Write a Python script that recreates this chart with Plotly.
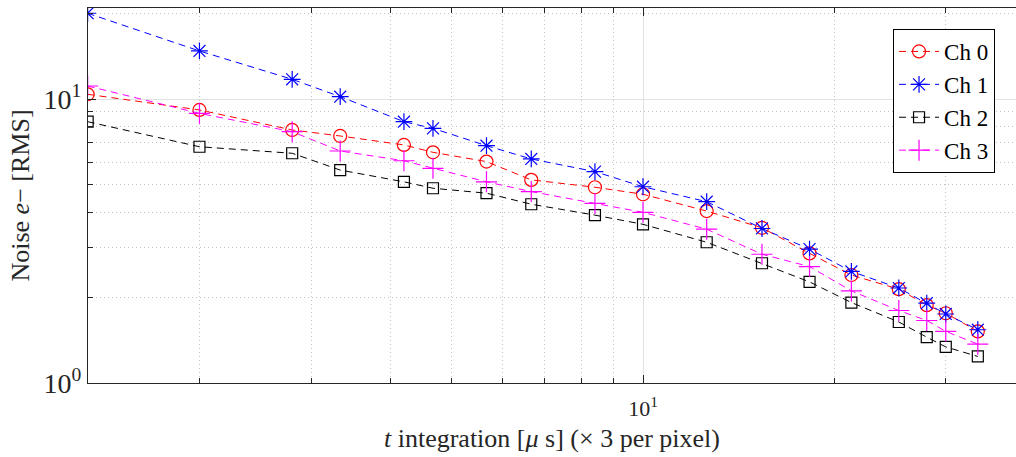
import plotly.graph_objects as go

# integration time [us]
t_us = [1.333, 2.0, 2.8, 3.333, 4.2, 4.667, 5.667, 6.667, 8.4, 10.0,
        12.6, 15.4, 18.3, 21.3, 25.3, 28.0, 30.0, 33.7]

ch0 = [10.39, 9.15, 7.78, 7.41, 6.89, 6.49, 6.02, 5.19, 4.89, 4.62,
       4.03, 3.52, 2.86, 2.40, 2.14, 1.88, 1.76, 1.52]
ch1 = [20.04, 14.76, 11.73, 10.19, 8.32, 7.88, 6.85, 6.15, 5.55, 4.91,
       4.35, 3.50, 2.96, 2.47, 2.16, 1.91, 1.75, 1.54]
ch2 = [8.32, 6.79, 6.44, 5.62, 5.11, 4.85, 4.66, 4.26, 3.90, 3.62,
       3.13, 2.64, 2.27, 1.92, 1.64, 1.45, 1.34, 1.24]
ch3 = [11.11, 8.90, 7.67, 6.56, 6.06, 5.70, 5.11, 4.72, 4.29, 3.99,
       3.48, 2.84, 2.57, 2.11, 1.80, 1.66, 1.52, 1.37]

names = ["Ch 0", "Ch 1", "Ch 2", "Ch 3"]
colors = ["#ff0000", "#0000ff", "#000000", "#ff00ff"]
symbols = ["circle-open", "asterisk-open", "square-open", "cross-thin-open"]
sizes = [13, 14, 11, 15]

x_minor = [2, 3, 4, 5, 6, 7, 8, 9, 20, 30]
y_minor = [2, 3, 4, 5, 6, 7, 8, 9, 20]

axis_col = "#262626"
font_fam = "Liberation Serif"

fig = go.Figure()
for name, y, c, s, sz in zip(names, [ch0, ch1, ch2, ch3], colors, symbols, sizes):
    fig.add_trace(go.Scatter(
        x=t_us, y=y, name=name, mode="lines+markers",
        line=dict(color=c, width=1, dash="7px,5px"),
        marker=dict(symbol=s, size=sz, color=c, line=dict(color=c, width=1.2)),
    ))

fig.update_layout(
    width=1016, height=457,
    margin=dict(l=88, r=0, t=8, b=74),
    paper_bgcolor="white", plot_bgcolor="white",
    font=dict(family=font_fam, color=axis_col),
    showlegend=True,
    legend=dict(
        x=0.8675, y=0.944, xanchor="left", yanchor="top",
        bgcolor="white", bordercolor="#000000", borderwidth=1,
        font=dict(family=font_fam, size=23, color="#000000"),
        tracegroupgap=0, itemwidth=40,
    ),
)

fig.update_xaxes(
    type="log", range=[0.1254, 1.5878],
    tickmode="array", tickvals=[10], ticktext=["10<sup>1</sup>"],
    ticks="inside", ticklen=8, tickcolor=axis_col, tickwidth=1,
    tickfont=dict(size=22, family=font_fam, color=axis_col),
    ticklabelstandoff=6,
    showline=True, linecolor=axis_col, linewidth=1, mirror="ticks",
    showgrid=True, gridcolor="#e2e2e2", gridwidth=1, zeroline=False,
    minor=dict(tickmode="array", tickvals=x_minor, ticks="inside", ticklen=5,
               tickcolor=axis_col, showgrid=True, gridcolor="#c4c4c4",
               griddash="1px,3px", gridwidth=1),
    title=dict(text="<i>t</i> integration [<i>μ</i> s] (× 3 per pixel)",
               font=dict(size=26, family=font_fam, color=axis_col), standoff=8),
)

fig.update_yaxes(
    type="log", range=[0, 1.3204],
    tickmode="array", tickvals=[1, 10], ticktext=["10<sup>0</sup>", "10<sup>1</sup>"],
    ticks="inside", ticklen=8, tickcolor=axis_col, tickwidth=1,
    tickfont=dict(size=28, family=font_fam, color=axis_col),
    showline=True, linecolor=axis_col, linewidth=1, mirror=False,
    showgrid=True, gridcolor="#e2e2e2", gridwidth=1, zeroline=False,
    minor=dict(tickmode="array", tickvals=y_minor, ticks="inside", ticklen=5,
               tickcolor=axis_col, showgrid=True, gridcolor="#c4c4c4",
               griddash="1px,3px", gridwidth=1),
    title=dict(text="Noise <i>e</i>− [RMS]",
               font=dict(size=26, family=font_fam, color=axis_col), standoff=6),
)

fig.write_html("out.html")
